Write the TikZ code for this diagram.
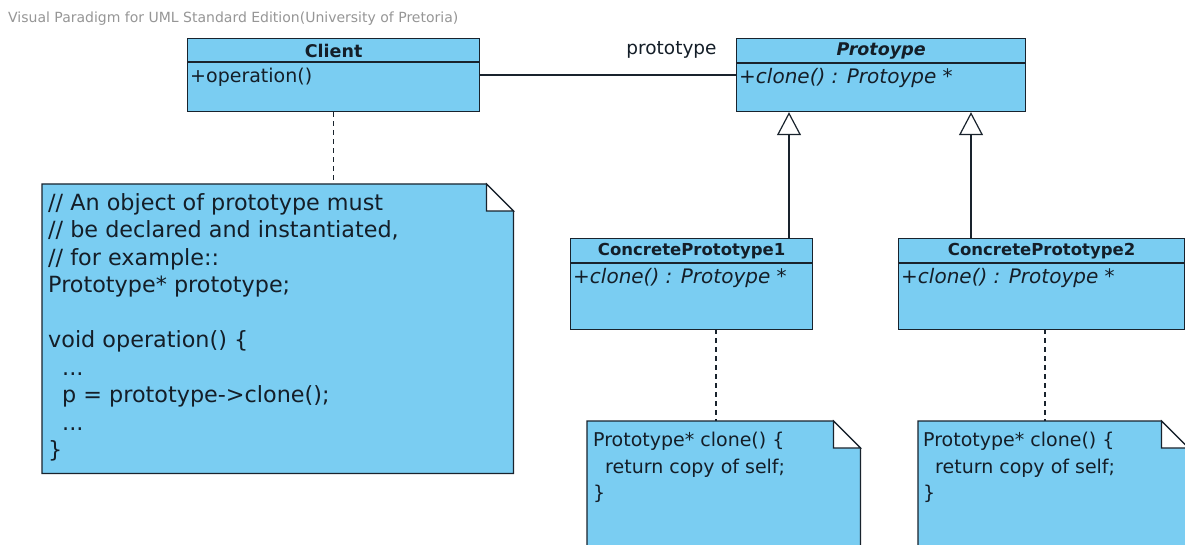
\documentclass[tikz,border=0pt]{standalone}
\usepackage{fontspec}
\setmainfont{DejaVu Sans}
\usetikzlibrary{arrows.meta}
\definecolor{vpfill}{RGB}{122,205,242}
\definecolor{vpline}{RGB}{25,35,45}
\definecolor{vptext}{RGB}{20,30,40}
\definecolor{vpgray}{RGB}{150,150,150}
\begin{document}
\begin{tikzpicture}[x=1pt,y=-1pt,
  classbox/.style={draw=vpline, fill=vpfill, line width=1.2pt, anchor=north west, inner sep=0pt},
  notebody/.style={anchor=north west, inner sep=0pt},
  noteline/.style={draw=vpline, fill=vpfill, line width=1.2pt, line join=miter},
  foldline/.style={draw=vpline, fill=white, line width=1.2pt},
  cname/.style={font=\fontsize{16.5}{19}\selectfont\bfseries, text=vptext, inner sep=0pt},
  cnamebig/.style={font=\fontsize{17.5}{20}\selectfont\bfseries, text=vptext, inner sep=0pt},
  cnameit/.style={font=\fontsize{17.5}{20}\selectfont\bfseries\itshape, text=vptext, inner sep=0pt},
  citem/.style={font=\fontsize{19}{22}\selectfont, text=vptext, anchor=west, inner sep=0pt},
  citemit/.style={font=\fontsize{20}{22}\selectfont\itshape, text=vptext, anchor=west, inner sep=0pt},
  ntext/.style={font=\fontsize{22.3}{27.5}\selectfont, text=vptext, align=left, anchor=north west, inner sep=0pt},
  ntextsmall/.style={font=\fontsize{19}{26.5}\selectfont, text=vptext, align=left, anchor=north west, inner sep=0pt},
  conn/.style={draw=vpline, line width=1.2pt},
  dashconn/.style={draw=vpline, line width=1.2pt, dash pattern=on 5pt off 4pt},
  gen/.style={draw=vpline, line width=1.2pt, -{Triangle[open, length=23pt, width=24pt, fill=white]}},
]
\fill[white] (0,0) rectangle (1185,545);
\useasboundingbox (0,0) rectangle (1185,545);

% title
\node[anchor=west, inner sep=0pt, text=vpgray, font=\fontsize{14}{16}\selectfont] (title) at (8,19) {Visual Paradigm for UML Standard Edition(University of Pretoria)};

% notes (drawn first)
\node[notebody, minimum width=471pt, minimum height=289pt] (lnote) at (42,184) {};
\node[notebody, minimum width=273pt, minimum height=140pt] (note1) at (587,421) {};
\node[notebody, minimum width=270pt, minimum height=140pt] (note2) at (918,421) {};
\foreach \n in {lnote,note1,note2}{
  \draw[noteline] (\n.north west) -- ([xshift=-27pt]\n.north east) -- ([yshift=-27pt]\n.north east) -- (\n.south east) -- (\n.south west) -- cycle;
  \draw[foldline] ([xshift=-27pt]\n.north east) -- ([xshift=-27pt,yshift=-27pt]\n.north east) -- ([yshift=-27pt]\n.north east) -- cycle;
}
\node[ntext] (lnotetext) at (48,193) {// An object of prototype must\\// be declared and instantiated,\\// for example::\\Prototype* prototype;\\[27.5pt]void operation() \{\\\hspace*{14pt}...\\\hspace*{14pt}p = prototype->clone();\\\hspace*{14pt}...\\\}};
\node[ntextsmall] (note1text) at (593,432) {Prototype* clone() \{\\\hspace*{12pt}return copy of self;\\\}};
\node[ntextsmall] (note2text) at (923,432) {Prototype* clone() \{\\\hspace*{12pt}return copy of self;\\\}};

% classes
\node[classbox, minimum width=292pt, minimum height=73pt] (client) at (187,38) {};
\draw[conn] ([yshift=-24pt]client.north west) -- ([yshift=-24pt]client.north east);
\node[cnamebig] (clientname) at ([yshift=-12.5pt]client.north) {Client};
\node[citem] (clientop) at ([xshift=3pt,yshift=-39pt]client.north west) {+operation()};

\node[classbox, minimum width=289pt, minimum height=73pt] (proto) at (736,38) {};
\draw[conn] ([yshift=-25pt]proto.north west) -- ([yshift=-25pt]proto.north east);
\node[cnameit] (protoname) at ([yshift=-13pt]proto.north) {Protoype};
\node[citemit] (protoop) at ([xshift=3pt,yshift=-40pt]proto.north west) {+clone() : Protoype *};

\node[classbox, minimum width=242pt, minimum height=91pt] (cp1) at (570,238) {};
\draw[conn] ([yshift=-25pt]cp1.north west) -- ([yshift=-25pt]cp1.north east);
\node[cname] (cp1name) at ([yshift=-13pt]cp1.north) {ConcretePrototype1};
\node[citemit] (cp1op) at ([xshift=3pt,yshift=-40pt]cp1.north west) {+clone() : Protoype *};

\node[classbox, minimum width=286pt, minimum height=91pt] (cp2) at (898,238) {};
\draw[conn] ([yshift=-25pt]cp2.north west) -- ([yshift=-25pt]cp2.north east);
\node[cname] (cp2name) at ([yshift=-13pt]cp2.north) {ConcretePrototype2};
\node[citemit] (cp2op) at ([xshift=3pt,yshift=-40pt]cp2.north west) {+clone() : Protoype *};

% association
\draw[conn] (client.east) -- (proto.west);
\node[inner sep=0pt, text=vptext, font=\fontsize{18.5}{21}\selectfont] (assoclabel) at (671.5,50) {prototype};

% generalizations
\coordinate (g1) at (789,238);
\coordinate (g2) at (971,238);
\draw[gen] (g1) -- (g1 |- proto.south);
\draw[gen] (g2) -- (g2 |- proto.south);

% note anchors
\draw[dashconn] (client.south) -- (client.south |- lnote.north);
\coordinate (d1) at (716,329);
\coordinate (d2) at (1045,329);
\draw[dashconn] (d1) -- (d1 |- note1.north);
\draw[dashconn] (d2) -- (d2 |- note2.north);
\end{tikzpicture}
\end{document}
